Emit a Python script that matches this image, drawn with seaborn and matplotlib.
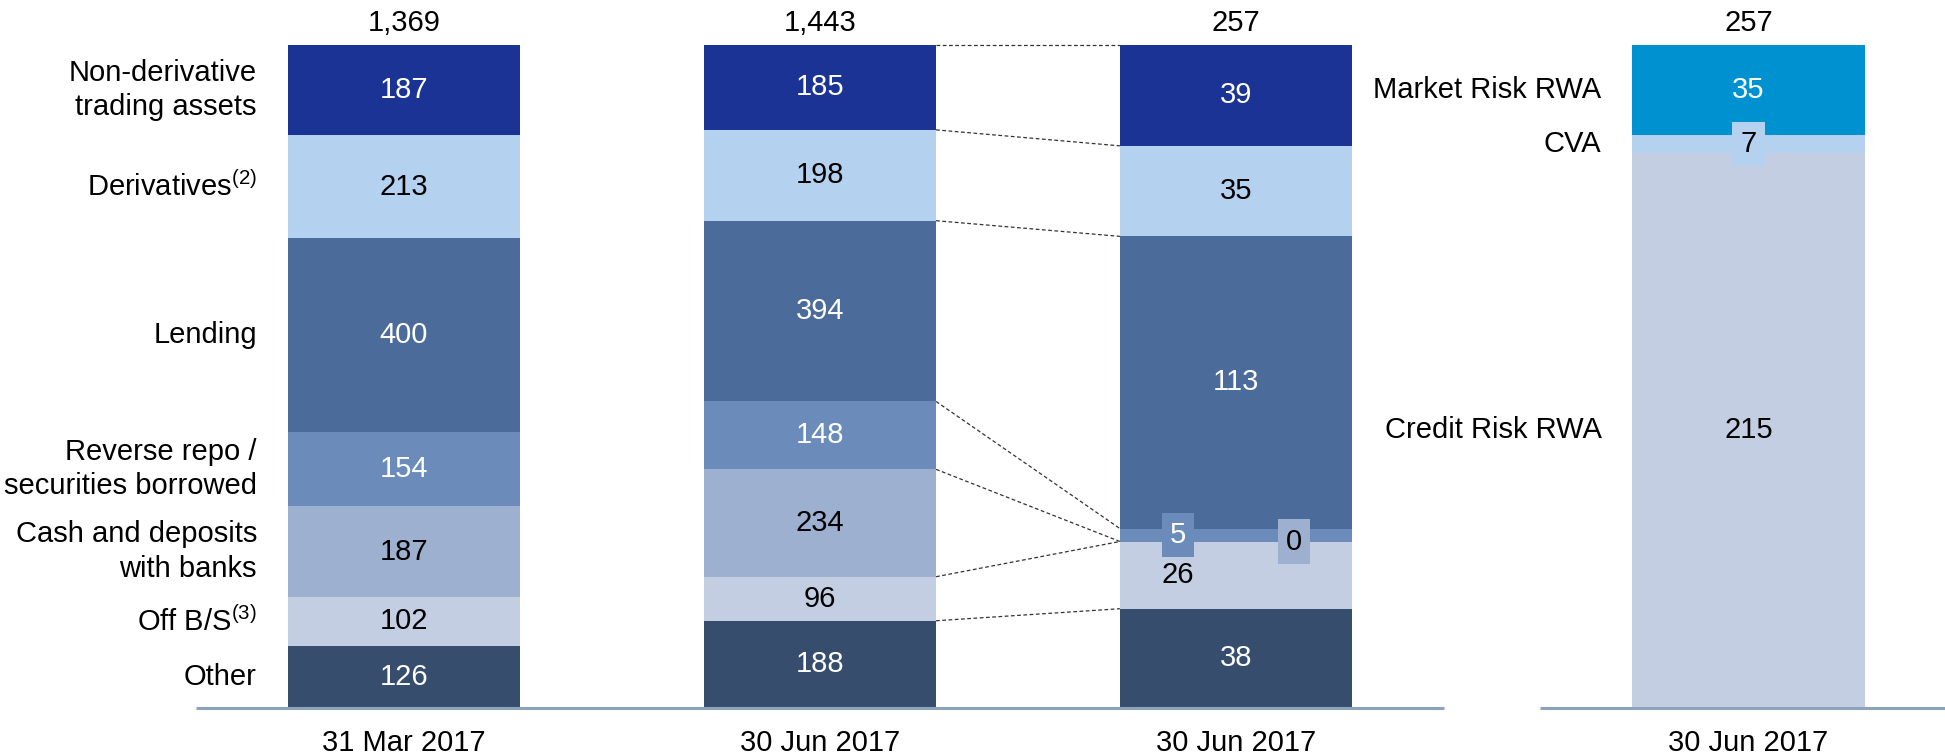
import numpy as np
import pandas as pd
import matplotlib
matplotlib.use("Agg")
import matplotlib.pyplot as plt
import seaborn as sns

# ---------------- data ----------------
categories = ["Non-derivative\ntrading assets", "Derivatives$^{(2)}$", "Lending",
              "Reverse repo /\nsecurities borrowed", "Cash and deposits\nwith banks",
              "Off B/S$^{(3)}$", "Other"]
mar17_values = [187, 213, 400, 154, 187, 102, 126]
jun17_values = [185, 198, 394, 148, 234, 96, 188]
rwa_values = [39, 35, 113, 5, 0, 26, 38]
rwa_types = ["Market Risk RWA", "CVA", "Credit Risk RWA"]
rwa_type_values = [35, 7, 215]
bar_totals = ["1,369", "1,443", "257", "257"]
period_labels = ["31 Mar 2017", "30 Jun 2017", "30 Jun 2017", "30 Jun 2017"]

# ---------------- styling ----------------
seg_colors = ["#1b3394", "#b4d1ef", "#4b6b9b", "#6b8cba", "#9db0cf", "#c3cee2", "#374d6e"]
seg_text = ["white", "black", "white", "white", "black", "black", "white"]
rwa_colors = ["#0091d1", "#b4d1ef", "#c3cee2"]
rwa_text = ["white", "black", "black"]

sns.set_theme(style="white")
plt.rcParams["font.family"] = ["Liberation Sans", "DejaVu Sans"]
plt.rcParams["mathtext.fontset"] = "custom"
plt.rcParams["mathtext.rm"] = "Liberation Sans"
plt.rcParams["mathtext.it"] = "Liberation Sans"
plt.rcParams["mathtext.bf"] = "Liberation Sans"

FS = 21
W = 0.558
positions = [0.0, 1.0, 2.0, 3.232]

fig = plt.figure(figsize=(19.45, 7.56), dpi=100)
ax = fig.add_axes([0, 49 / 756, 1, 662 / 756])


def shares_tops(vals):
    v = np.asarray(vals, dtype=float)
    s = v / v.sum()
    tops = np.cumsum(s[::-1])[::-1]  # top of each segment (listed top->bottom)
    bottoms = tops - s
    return s, tops, bottoms


# main three stacked bars (segments listed top -> bottom)
main_sets = [mar17_values, jun17_values, rwa_values]
main_info = [shares_tops(v) for v in main_sets]
for k in range(len(categories)):
    df = pd.DataFrame({"pos": positions[:3], "top": [info[1][k] for info in main_info]})
    sns.barplot(data=df, x="pos", y="top", native_scale=True, color=seg_colors[k],
                saturation=1, width=W, errorbar=None, linewidth=0, ax=ax)

# RWA split bar
s4, t4, b4 = shares_tops(rwa_type_values)
for k in range(len(rwa_types)):
    df = pd.DataFrame({"pos": [positions[3]], "top": [t4[k]]})
    sns.barplot(data=df, x="pos", y="top", native_scale=True, color=rwa_colors[k],
                saturation=1, width=W, errorbar=None, linewidth=0, ax=ax)

ax.set_xlim(-404 / 416, (1945 - 404) / 416)
ax.set_ylim(0, 1)
ax.set_axis_off()

# value labels in bars 1 and 2
for bi in range(2):
    s, t, b = main_info[bi]
    vals = main_sets[bi]
    for k, v in enumerate(vals):
        ax.text(positions[bi], (t[k] + b[k]) / 2, f"{v}", ha="center", va="center",
                fontsize=FS, color=seg_text[k])

# bar 3 labels
s, t, b = main_info[2]
off = 0.139
for k, v in enumerate(rwa_values):
    y = (t[k] + b[k]) / 2
    if k == 3:      # reverse repo, boxed at left
        ax.text(positions[2] - off, y, f"{v}", ha="center", va="center", fontsize=FS,
                color=seg_text[k],
                bbox=dict(boxstyle="square,pad=0.28", fc=seg_colors[k], ec="none"))
    elif k == 4:    # cash, boxed at right
        ax.text(positions[2] + off, y, f"{v}", ha="center", va="center", fontsize=FS,
                color=seg_text[k],
                bbox=dict(boxstyle="square,pad=0.28", fc=seg_colors[k], ec="none"))
    elif k == 5:    # off B/S, at left
        ax.text(positions[2] - off, y, f"{v}", ha="center", va="center", fontsize=FS,
                color=seg_text[k])
    else:
        ax.text(positions[2], y, f"{v}", ha="center", va="center", fontsize=FS,
                color=seg_text[k])

# bar 4 labels
for k, v in enumerate(rwa_type_values):
    y = (t4[k] + b4[k]) / 2
    kw = {}
    if k == 1:
        kw["bbox"] = dict(boxstyle="square,pad=0.28", fc=rwa_colors[k], ec="none")
    ax.text(positions[3], y, f"{v}", ha="center", va="center", fontsize=FS,
            color=rwa_text[k], **kw)
    ax.text(positions[3] - W / 2 - 0.0745, y, rwa_types[k], ha="right", va="center",
            fontsize=FS, color="black")

# category labels left of bar 1
s1, t1, b1 = main_info[0]
for k, c in enumerate(categories):
    ax.text(positions[0] - W / 2 - 0.0745, (t1[k] + b1[k]) / 2, c, ha="right",
            va="center", fontsize=FS, color="black", linespacing=1.28)

# totals and period labels
for i, p in enumerate(positions):
    ax.text(p, 1 + 22 / 662, bar_totals[i], ha="center", va="center", fontsize=FS,
            color="black", clip_on=False)
    ax.text(p, -36 / 662, period_labels[i], ha="center", va="center", fontsize=FS,
            color="black", clip_on=False)

# dashed connectors between bar 2 and bar 3 at every segment boundary
_, t2, _ = main_info[1]
_, t3, _ = main_info[2]
for k in range(len(categories)):
    ax.plot([positions[1] + W / 2, positions[2] - W / 2], [t2[k], t3[k]],
            ls=(0, (3, 2)), lw=0.9, color="#333333", clip_on=False)

# baseline segments
ax.plot([(196 - 404) / 416, (1444 - 404) / 416], [-0.0015, -0.0015], color="#8da2bb",
        lw=2.2, solid_capstyle="butt", clip_on=False)
ax.plot([(1540 - 404) / 416, (1945 - 404) / 416], [-0.0015, -0.0015], color="#8da2bb",
        lw=2.2, solid_capstyle="butt", clip_on=False)

fig.savefig("out.png", dpi=100)
